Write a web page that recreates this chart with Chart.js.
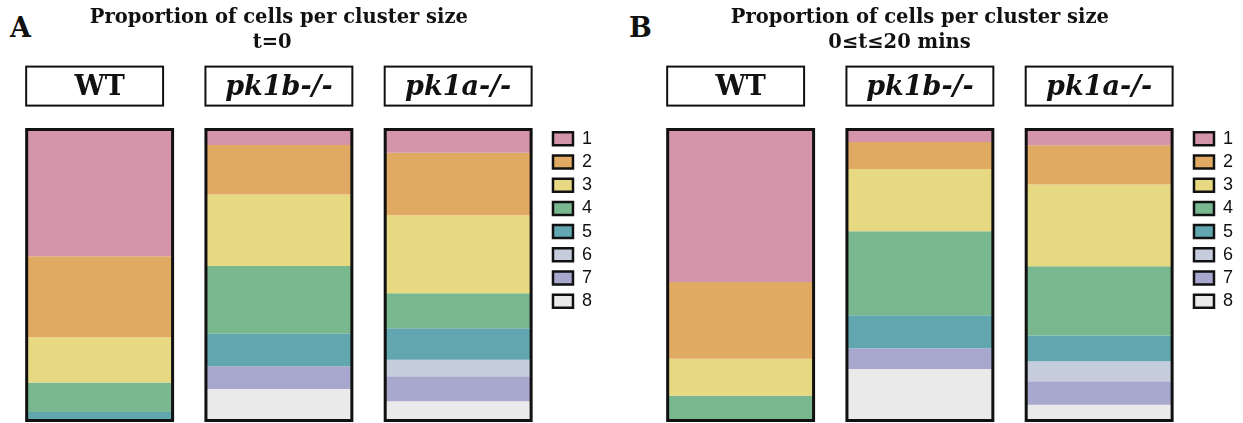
<!DOCTYPE html>
<html>
<head>
<meta charset="utf-8">
<script src="https://cdn.jsdelivr.net/npm/chart.js@4.4.1/dist/chart.umd.min.js"></script>
<style>
  html, body { margin: 0; padding: 0; background: #fff; }
  body { width: 1243px; height: 423px; position: relative; overflow: hidden; }
  .panel { position: absolute; top: 0; width: 602px; height: 423px; }
  .panel canvas { display: block; }
  .letter { position: absolute; top: 14px; font: bold 27px/27px "DejaVu Serif", serif; color: #111; }
</style>
</head>
<body>
<div class="letter" style="left:10px">A</div>
<div class="letter" style="left:629px">B</div>
<div class="panel" style="left:0px"><canvas id="chartA" width="602" height="423"></canvas></div>
<div class="panel" style="left:641px"><canvas id="chartB" width="602" height="423"></canvas></div>
<script>
// Genotypes (one stacked bar each) and cluster sizes (one stack segment each)
const genotypes = ['WT', 'pk1b-/-', 'pk1a-/-'];
const clusterSizes = ['1', '2', '3', '4', '5', '6', '7', '8'];

// Percentage of cells in clusters of size 1..8, at t = 0
const t0WT   = [43.6, 27.8, 15.5, 10.2, 2.9, 0.0, 0.0, 0.0];
const t0Pk1b = [5.3, 17.0, 24.6, 23.3, 11.2, 0.0, 7.8, 10.8];
const t0Pk1a = [8.0, 21.5, 26.8, 12.0, 10.8, 5.7, 8.6, 6.6];

// Percentage of cells in clusters of size 1..8, pooled over 0 ≤ t ≤ 20 min
const winWT   = [52.4, 26.4, 12.7, 8.5, 0.0, 0.0, 0.0, 0.0];
const winPk1b = [4.3, 9.3, 21.4, 28.8, 11.4, 0.0, 7.1, 17.7];
const winPk1a = [5.4, 13.5, 28.1, 23.8, 8.8, 6.9, 8.1, 5.4];

const sizeColors = ['#D494A9', '#E1AA62', '#E6D982', '#79B78F', '#62A6B0', '#C5CDDC', '#A8A8CE', '#EAEAEA'];

const INK = '#111';
const serif = '"DejaVu Serif", serif';

// Outline around every full stack
const stackOutline = {
  id: 'stackOutline',
  afterDatasetsDraw(chart) {
    const {ctx} = chart;
    const y = chart.scales.y;
    const bars = chart.getDatasetMeta(0).data;
    bars.forEach((bar, i) => {
      const total = chart.data.datasets.reduce((s, ds) => s + ds.data[i], 0);
      const a = y.getPixelForValue(0);
      const b = y.getPixelForValue(total);
      const top = Math.min(a, b);
      const h = Math.abs(b - a);
      ctx.save();
      ctx.strokeStyle = INK;
      ctx.lineWidth = 3;
      ctx.strokeRect(bar.x - bar.width / 2, top, bar.width, h);
      ctx.restore();
    });
  }
};

// Framed genotype labels above the bars
const labelFrames = {
  id: 'labelFrames',
  afterDraw(chart, args, opts) {
    const {ctx} = chart;
    const x = chart.scales.x;
    const bars = chart.getDatasetMeta(0).data;
    const bottom = x.bottom - opts.gap;
    const top = bottom - opts.height;
    bars.forEach((bar, i) => {
      const left = bar.x - bar.width / 2 - 0.5;
      const w = bar.width + 1 - (opts.insetRight[i] || 0);
      ctx.save();
      ctx.strokeStyle = INK;
      ctx.lineWidth = 2;
      ctx.strokeRect(left, top, w, bottom - top);
      ctx.restore();
    });
  }
};

function buildChart(canvasId, titleLines, rows) {
  const datasets = clusterSizes.map((size, k) => ({
    label: size,
    data: rows.map(r => r[k]),
    backgroundColor: sizeColors[k],
    borderWidth: 0,
    barPercentage: 0.814,
    categoryPercentage: 1.0
  }));

  return new Chart(document.getElementById(canvasId), {
    type: 'bar',
    data: { labels: genotypes, datasets },
    plugins: [stackOutline, labelFrames],
    options: {
      responsive: false,
      animation: false,
      layout: { padding: { top: 0, left: 10, right: 0, bottom: 2.5 } },
      scales: {
        x: {
          stacked: true,
          position: 'top',
          grid: { display: false, drawTicks: false },
          border: { display: false },
          ticks: {
            color: INK,
            padding: 20.5,
            maxRotation: 0,
            autoSkip: false,
            font: (c) => ({
              family: serif,
              size: 27,
              weight: 'bold',
              style: genotypes[c.index] === 'WT' ? 'normal' : 'italic',
              lineHeight: 1.2
            })
          },
          afterFit: (s) => { s.height = 51.7; }
        },
        y: {
          stacked: true,
          display: false,
          reverse: true,
          min: -1.68,
          max: 100
        }
      },
      plugins: {
        title: {
          display: true,
          fullSize: false,
          text: titleLines,
          color: INK,
          font: { family: serif, size: 19.5, weight: 'bold', lineHeight: '25px' },
          padding: { top: 5.9, bottom: 17 }
        },
        legend: {
          display: true,
          position: 'right',
          align: 'start',
          fullSize: false,
          labels: {
            color: INK,
            font: { family: '"Liberation Sans", Arial, sans-serif', size: 18 },
            boxWidth: 20,
            boxHeight: 13,
            padding: 5.2,
            generateLabels: (chart) =>
              Chart.defaults.plugins.legend.labels.generateLabels(chart)
                .map(item => Object.assign(item, { strokeStyle: INK, lineWidth: 2.5 }))
          }
        },
        tooltip: { enabled: false },
        labelFrames: { gap: 19, height: 39, insetRight: [10, 0, 0] }
      }
    }
  });
}

buildChart('chartA', ['Proportion of cells per cluster size', 't=0\u00a0\u00a0'], [t0WT, t0Pk1b, t0Pk1a]);
buildChart('chartB', ['Proportion of cells per cluster size', '0≤t≤20 mins\u00a0\u00a0\u00a0\u00a0\u00a0\u00a0'], [winWT, winPk1b, winPk1a]);
</script>
</body>
</html>
